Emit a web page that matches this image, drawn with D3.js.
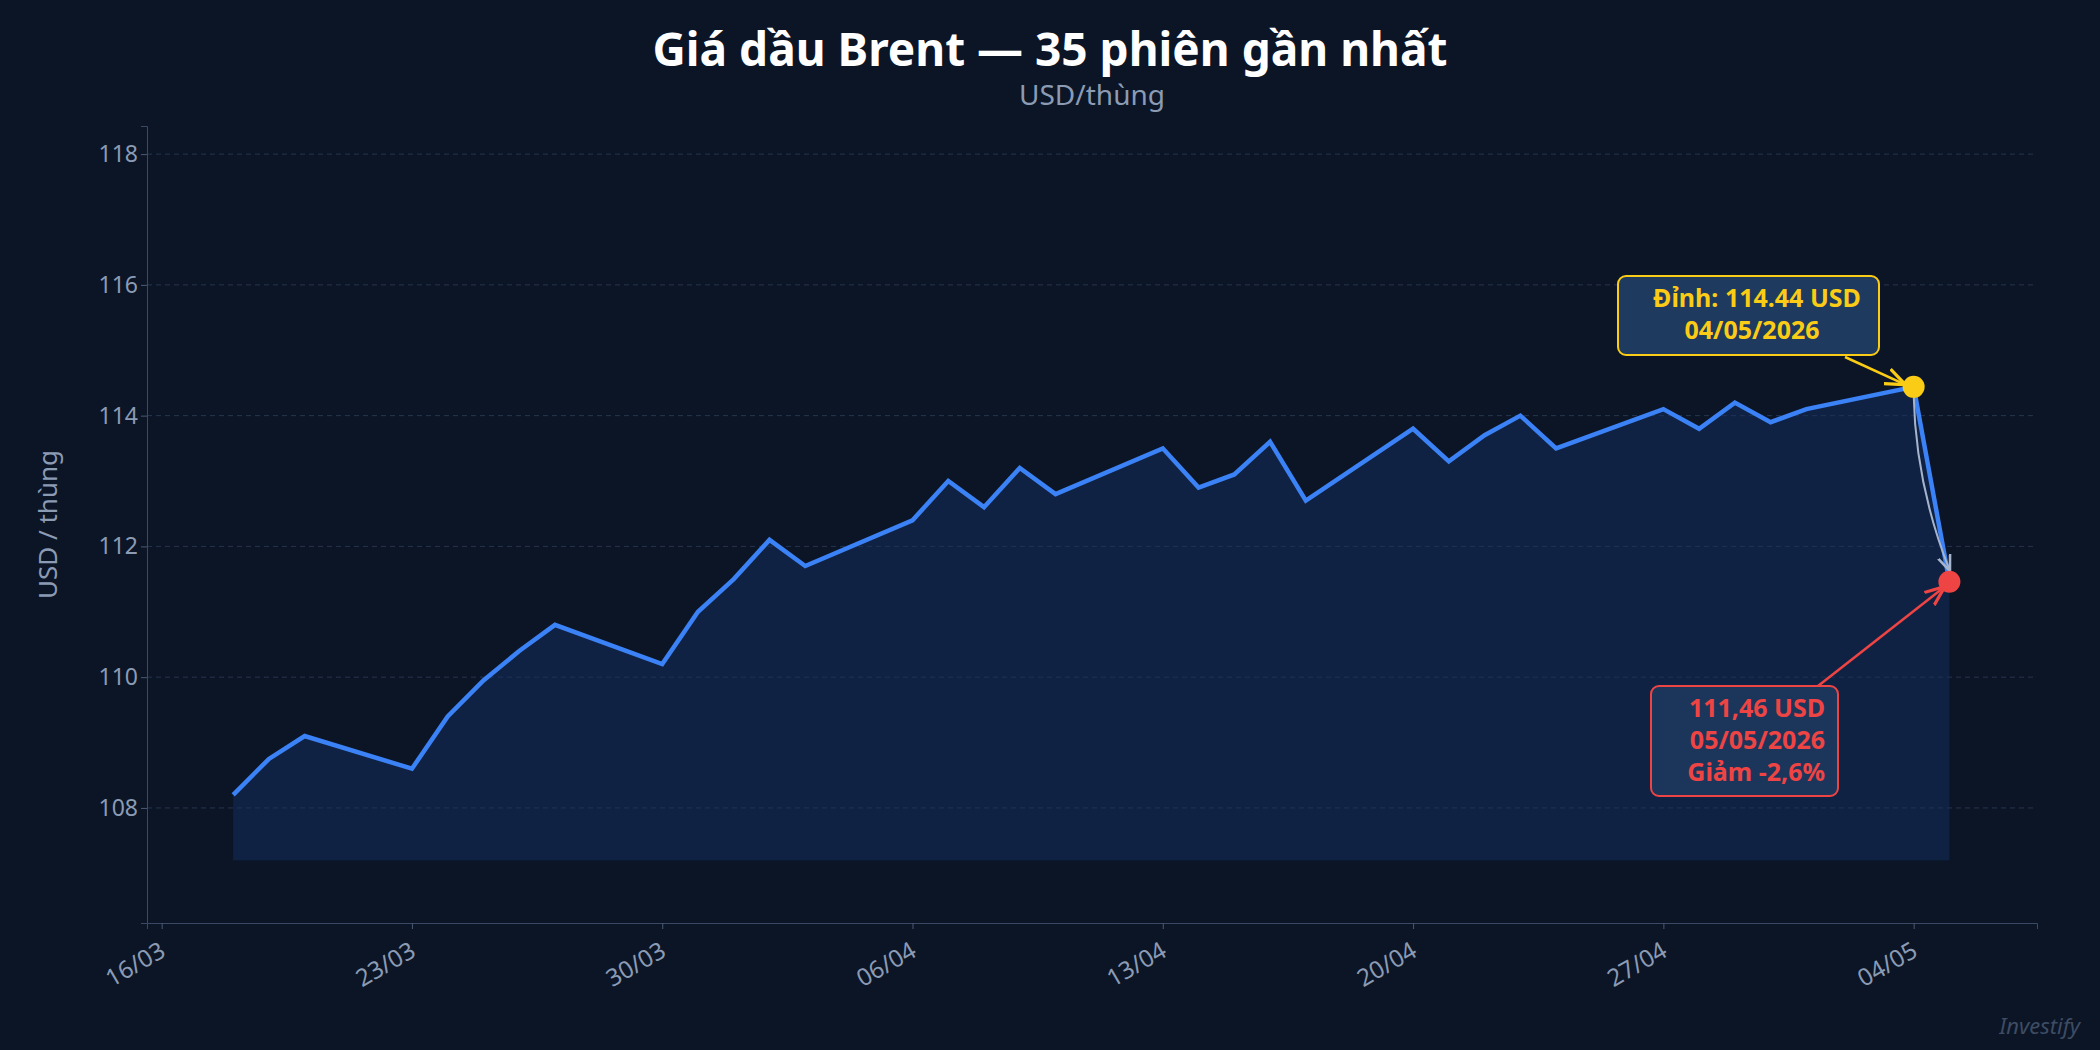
<!DOCTYPE html>
<html><head><meta charset="utf-8">
<script src="https://cdn.jsdelivr.net/npm/d3@7/dist/d3.min.js"></script>
<style>html,body{margin:0;background:#0b1526;}svg{display:block}</style>
</head><body><svg id="c" width="2100" height="1050"></svg>
<script>
const dates = ["18/03","19/03","20/03","23/03","24/03","25/03","26/03","27/03","30/03","31/03","01/04","02/04","03/04","06/04","07/04","08/04","09/04","10/04","13/04","14/04","15/04","16/04","17/04","20/04","21/04","22/04","23/04","24/04","27/04","28/04","29/04","30/04","01/05","04/05","05/05"];
const prices = [108.2,108.75,109.1,108.6,109.4,109.95,110.4,110.8,110.2,111.0,111.5,112.1,111.7,112.4,113.0,112.6,113.2,112.8,113.5,112.9,113.1,113.6,112.7,113.8,113.3,113.7,114.0,113.5,114.1,113.8,114.2,113.9,114.1,114.44,111.46];
const xTicks = ["16/03","23/03","30/03","06/04","13/04","20/04","27/04","04/05"];
const yTicks = [108,110,112,114,116,118];

const parse = s => { const [d,m] = s.split("/").map(Number); return new Date(2026, m-1, d); };
const svg = d3.select("#c");
const W=2100,H=1050, L=147, R=2037, T=126, B=923;
svg.append("rect").attr("width",W).attr("height",H).attr("fill","#0b1526");
const day=864e5, t0=parse("16/03").getTime();
const x = d3.scaleTime().domain([new Date(t0-0.41*day), new Date(t0+52.45*day)]).range([L,R]);
const y = d3.scaleLinear().domain([106.24,118.43]).range([B,T]);
const data = dates.map((d,i)=>({d:parse(d),v:prices[i]}));

svg.append("g").selectAll("line").data(yTicks).join("line")
 .attr("x1",L).attr("x2",R).attr("y1",d=>y(d)).attr("y2",d=>y(d))
 .attr("stroke","#26354e").attr("stroke-dasharray","5,4").attr("stroke-width",1);

const base = d3.min(prices)-1;
svg.append("path").datum(data).attr("fill","#163060").attr("opacity",0.5)
 .attr("d",d3.area().x(d=>x(d.d)).y0(y(base)).y1(d=>y(d.v)));
svg.append("path").datum(data).attr("fill","none").attr("stroke","#3b82f6").attr("stroke-width",4.5)
 .attr("stroke-linejoin","miter").attr("d",d3.line().x(d=>x(d.d)).y(d=>y(d.v)));

const font="'Noto Sans', 'Open Sans', sans-serif";
const ax = svg.append("g").attr("transform",`translate(0,${B})`)
 .call(d3.axisBottom(x).tickValues(xTicks.map(parse)).tickFormat(d3.timeFormat("%d/%m")).tickSize(6));
ax.selectAll("text").attr("fill","#8b9bb4").attr("font-size",24).attr("font-family",font)
 .attr("text-anchor","end").attr("transform","rotate(-30)").attr("dx","-0.5em").attr("dy","0.9em");
const ay = svg.append("g").attr("transform",`translate(${L},0)`)
 .call(d3.axisLeft(y).tickValues(yTicks).tickSize(6));
ay.selectAll("text").attr("fill","#8b9bb4").attr("font-size",23).attr("font-family",font);
[ax,ay].forEach(a=>{a.selectAll("line").attr("stroke","#4a5a75");a.select(".domain").attr("stroke","#3a4a65");});

svg.append("text").attr("x",1050).attr("y",66).attr("text-anchor","middle").attr("fill","#fff")
 .attr("font-family",font).attr("font-weight","bold").attr("font-size",46).text("Giá dầu Brent — 35 phiên gần nhất");
svg.append("text").attr("x",(L+R)/2).attr("y",105).attr("text-anchor","middle").attr("fill","#8b9bb4")
 .attr("font-family",font).attr("font-size",28).text("USD/thùng");
svg.append("text").attr("transform",`translate(57,${(T+B)/2}) rotate(-90)`).attr("text-anchor","middle")
 .attr("fill","#8b9bb4").attr("font-family",font).attr("font-size",26).text("USD / thùng");
svg.append("text").attr("x",2080).attr("y",1034).attr("text-anchor","end").attr("fill","#3e4c63")
 .attr("font-family",font).attr("font-style","italic").attr("font-size",22).text("Investify");

const pk=data[33], lt=data[34];
const px=x(pk.d), py=y(pk.v), lx=x(lt.d), ly=y(lt.v);
const defs=svg.append("defs");
[["ay","#facc15"],["ar","#ef4444"],["ag","#a5b4cc"]].forEach(([id,c])=>{
 defs.append("marker").attr("id",id).attr("viewBox","0 0 10 10").attr("refX",9).attr("refY",5)
  .attr("markerWidth",8).attr("markerHeight",8).attr("orient","auto")
  .append("path").attr("d","M0,1 L10,5 L0,9").attr("fill","none").attr("stroke",c).attr("stroke-width",1.6);
});
svg.append("path").attr("d",`M${px},${py+8} Q${px+2},${(py+ly)/2} ${lx},${ly-12}`).attr("fill","none")
 .attr("stroke","#a5b4cc").attr("stroke-width",2).attr("marker-end","url(#ag)");
svg.append("line").attr("x1",1845).attr("y1",357).attr("x2",px-10).attr("y2",py-3)
 .attr("stroke","#facc15").attr("stroke-width",2.5).attr("marker-end","url(#ay)");
svg.append("line").attr("x1",1818).attr("y1",686).attr("x2",lx-6).attr("y2",ly+6)
 .attr("stroke","#ef4444").attr("stroke-width",2.5).attr("marker-end","url(#ar)");

svg.append("rect").attr("x",1618).attr("y",276).attr("width",261).attr("height",79).attr("rx",8)
 .attr("fill","#1e3a5f").attr("stroke","#facc15").attr("stroke-width",2);
svg.append("text").attr("y",307).attr("text-anchor","middle").attr("fill","#facc15")
 .attr("font-family",font).attr("font-weight","bold").attr("font-size",25)
 .selectAll("tspan").data(["Đỉnh: 114.44 USD","04/05/2026"]).join("tspan")
 .attr("x",(d,i)=>i?1752:1757).attr("dy",(d,i)=>i?32:0).text(d=>d);
svg.append("rect").attr("x",1651).attr("y",686).attr("width",187).attr("height",110).attr("rx",8)
 .attr("fill","#1e3a5f").attr("fill-opacity",0.85).attr("stroke","#ef4444").attr("stroke-width",2);
svg.append("text").attr("y",717).attr("text-anchor","end").attr("fill","#ef4444")
 .attr("font-family",font).attr("font-weight","bold").attr("font-size",25)
 .selectAll("tspan").data(["111,46 USD","05/05/2026","Giảm -2,6%"]).join("tspan")
 .attr("x",1825).attr("dy",(d,i)=>i?32:0).text(d=>d);

svg.append("circle").attr("cx",px).attr("cy",py).attr("r",11).attr("fill","#facc15");
svg.append("circle").attr("cx",lx).attr("cy",ly).attr("r",11).attr("fill","#ef4444");
</script></body></html>
